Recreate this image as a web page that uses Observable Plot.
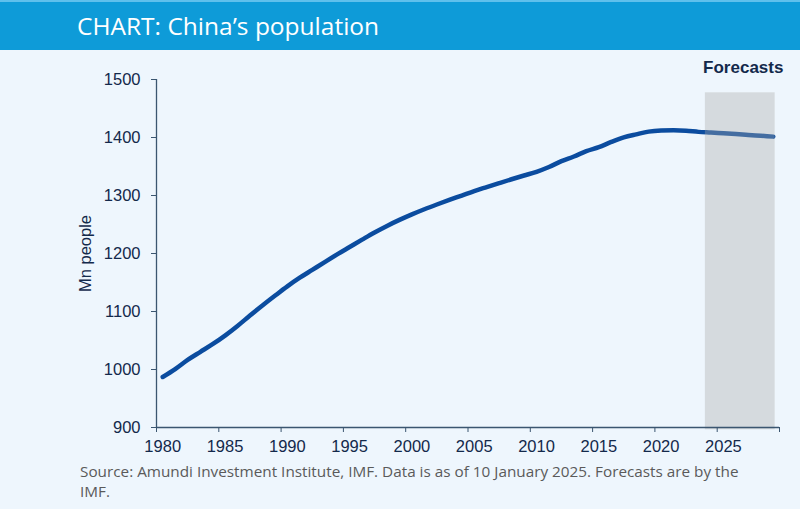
<!DOCTYPE html>
<html>
<head>
<meta charset="utf-8">
<script src="https://cdn.jsdelivr.net/npm/d3@7"></script>
<script src="https://cdn.jsdelivr.net/npm/@observablehq/plot@0.6"></script>
<style>
  html, body { margin: 0; padding: 0; }
  body { width: 800px; height: 509px; overflow: hidden; background: #eef6fd; position: relative; }
  #bar { position: absolute; left: 0; top: 0; width: 800px; height: 48px; background: #0e9bd8; border-top: 2px solid #5fc0ec; }
  #title { position: absolute; left: 77px; top: 7px; font-family: "Open Sans", sans-serif; font-size: 24.5px; color: #ffffff; line-height: normal; white-space: nowrap; }
  #chart { position: absolute; left: 0; top: 50px; }
  #caption { position: absolute; left: 80px; top: 461px; font-family: "Open Sans", sans-serif; font-size: 15.3px; line-height: 20px; color: #5a5a5a; white-space: nowrap; }
</style>
</head>
<body>
<div id="bar"><div id="title">CHART: China’s population</div></div>
<div id="chart"></div>
<div id="caption">Source: Amundi Investment Institute, IMF. Data is as of 10 January 2025. Forecasts are by the<br>IMF.</div>
<script>
// Data (millions of people)
const years = [1980,1981,1982,1983,1984,1985,1986,1987,1988,1989,
               1990,1991,1992,1993,1994,1995,1996,1997,1998,1999,
               2000,2001,2002,2003,2004,2005,2006,2007,2008,2009,
               2010,2011,2012,2013,2014,2015,2016,2017,2018,2019,
               2020,2021,2022,2023,2024,2025,2026,2027,2028,2029];
const population = [987.1,1000.7,1016.5,1030.1,1043.6,1058.5,1075.1,1093.0,1110.3,1127.0,
                    1143.3,1158.2,1171.7,1185.2,1198.5,1211.2,1223.9,1236.3,1247.6,1257.9,
                    1267.4,1276.3,1284.5,1292.3,1299.9,1307.6,1314.5,1321.3,1328.0,1334.5,
                    1340.9,1349.2,1359.2,1367.3,1376.5,1383.3,1392.3,1400.1,1405.4,1410.1,
                    1412.1,1412.6,1411.8,1409.7,1408.5,1407.2,1405.9,1404.5,1403.0,1401.5];
const yTicks = [900,1000,1100,1200,1300,1400,1500];
const xLabels = [1980,1985,1990,1995,2000,2005,2010,2015,2020,2025];
const forecastStart = 2024;
const forecastEnd = 2029;
const forecastLabel = "Forecasts";
const yLabel = "Mn people";

const data = years.map((y, i) => ({year: y, value: population[i]}));
const xBoundaries = d3.range(years[0] - 0.5, years[years.length - 1] + 1, 5);

const navy = "#13294b";
const axisColor = "#3b5670";

const chart = Plot.plot({
  width: 800,
  height: 410,
  marginTop: 29,
  marginBottom: 33,
  marginLeft: 156,
  marginRight: 21,
  style: { background: "transparent", fontFamily: "'Liberation Sans', Arial, sans-serif", fontSize: "16.5px", color: navy },
  x: { domain: [years[0] - 0.5, years[years.length - 1] + 0.5] },
  y: { domain: [900, 1500] },
  marks: [
    Plot.line(data, { x: "year", y: "value", stroke: "#0b4c9f", strokeWidth: 4.5, curve: "monotone-x", strokeLinecap: "round" }),
    Plot.rect([{x1: forecastStart - 0.45, x2: forecastEnd + 0.15}], { x1: "x1", x2: "x2", y1: 896, y2: 1477, fill: "#a9a9a5", fillOpacity: 0.36 }),
    Plot.ruleX([years[0] - 0.5], { y1: 900, y2: 1500, stroke: axisColor, strokeWidth: 1.3 }),
    Plot.ruleY([900], { x1: years[0] - 0.5, x2: years[years.length - 1] + 0.5, stroke: axisColor, strokeWidth: 1.3 }),
    Plot.axisY(yTicks, { tickSize: 5, tickPadding: 11, stroke: axisColor, fill: navy, label: null, tickFormat: d => String(d), fontSize: 16.5 }),
    Plot.axisX(xBoundaries, { tickSize: 5, stroke: axisColor, tickFormat: () => "", label: null }),
    Plot.axisX(xLabels, { tickSize: 0, tickPadding: 13, fill: navy, label: null, tickFormat: d => String(d), fontSize: 16.5 }),
    Plot.text([yLabel], { frameAnchor: "left", textAnchor: "middle", rotate: -90, dx: -71, fill: navy, fontSize: 16.5 }),
    Plot.text([forecastLabel], { x: (forecastStart - 0.45 + forecastEnd + 0.15) / 2, frameAnchor: "top", dx: 3, dy: -12, fill: navy, fontWeight: "bold", fontSize: 17, lineAnchor: "middle" })
  ]
});
document.getElementById("chart").appendChild(chart);
</script>
</body>
</html>
